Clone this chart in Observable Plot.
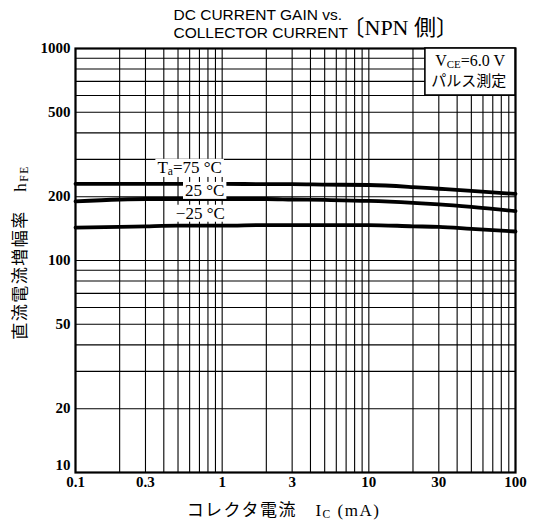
<!DOCTYPE html>
<html><head><meta charset="utf-8">
<script src="https://cdn.jsdelivr.net/npm/d3@7"></script>
<script src="https://cdn.jsdelivr.net/npm/@observablehq/plot@0.6"></script>
<style>body{margin:0;background:#fff} svg{display:block}</style>
</head><body>
<script>
// Collector current (mA)
const currents = [0.1, 0.2, 0.3, 0.5, 1, 2, 3, 5, 10, 20, 30, 50, 100];
// DC current gain hFE at each temperature
const hfe75  = [230, 230, 230, 230, 230, 229, 229, 228, 227, 222, 218, 213, 206];
const hfe25  = [190, 194, 195, 195, 195, 195, 194, 193, 191, 187, 184, 179, 171];
const hfeM25 = [143, 144, 145, 146, 146, 147, 147, 147, 147, 145, 144, 141, 137];
const seriesNames = ["75", "25", "-25"];

// Ticks and grid
const xTicks = [0.1, 0.3, 1, 3, 10, 30, 100];
const yTicksUpper = [20, 50, 100, 200, 500, 1000];
const yTicksBottom = [10];
const gridX = [0.1,0.2,0.3,0.4,0.5,0.6,0.7,0.8,0.9,1,2,3,4,5,6,7,8,9,10,20,30,40,50,60,70,80,90,100];
const gridY = [10,20,30,40,50,60,70,80,90,100,200,300,400,500,600,700,800,900,1000];

// Curve labels (data-space anchors)
const labelText = ["T_{a}=75 °C", "25 °C", "−25 °C"];
const labelX = [0.6, 0.76, 0.71];
const labelY = [275, 214, 167];

// Condition box
const boxX = [24.3, 100];
const boxY = [600, 1000];
const condText = ["V_{CE}=6.0 V", "パルス測定"];
const condX = [49, 48];
const condY = [872, 700];

// Texts
const titleLine1 = "DC CURRENT GAIN vs.";
const titleLine2 = "COLLECTOR CURRENT";
const titleSide = "〔NPN 側〕";
const xLabel = "コレクタ電流　I_{C} (mA)";
const yLabel = "直流電流増幅率　h_{FE}";

const rows = currents.flatMap((c, i) => [
  {ta: seriesNames[0], ic: c, h: hfe75[i]},
  {ta: seriesNames[1], ic: c, h: hfe25[i]},
  {ta: seriesNames[2], ic: c, h: hfeM25[i]}
]);

const serif = "'Liberation Serif', 'Noto Sans CJK JP', serif";
const sans = "'Liberation Sans Narrow', 'Liberation Sans', 'DejaVu Sans Condensed', sans-serif";

const svg = Plot.plot({
  width: 542, height: 530,
  marginTop: 48, marginBottom: 58, marginLeft: 75, marginRight: 27,
  x: {type: "log", domain: [0.1, 100]},
  y: {type: "log", domain: [10, 1000]},
  style: {fontFamily: serif, background: "white", color: "black"},
  marks: [
    Plot.ruleX(gridX, {stroke: "black", strokeWidth: 1.1}),
    Plot.ruleY(gridY, {stroke: "black", strokeWidth: 1.1}),
    Plot.line(rows, {x: "ic", y: "h", z: "ta", stroke: "black", strokeWidth: 3.8, curve: "monotone-x"}),
    Plot.frame({stroke: "black", strokeWidth: 2.2}),
    Plot.rect([0], {x1: boxX[0], x2: boxX[1], y1: boxY[0], y2: boxY[1], fill: "white", stroke: "black", strokeWidth: 1.6}),
    Plot.axisX({ticks: xTicks, tickSize: 0, tickPadding: 4, fontSize: 15, fontWeight: "bold", tickFormat: d => String(d), label: null}),
    Plot.axisY({ticks: yTicksUpper, tickSize: 0, tickPadding: 5, fontSize: 15, fontWeight: "bold", tickFormat: d => String(d), label: null}),
    Plot.axisY({ticks: yTicksBottom, tickSize: 0, tickPadding: 5, fontSize: 15, fontWeight: "bold", dy: -7, tickFormat: d => String(d), label: null}),
    Plot.text(labelText, {x: (d, i) => labelX[i], y: (d, i) => labelY[i], text: d => d, fontSize: 17, ariaLabel: () => "curve-label"}),
    Plot.text(condText, {x: (d, i) => condX[i], y: (d, i) => condY[i], text: d => d, fontSize: (d, i) => i === 0 ? 16 : 15, fontWeight: (d, i) => i === 0 ? "bold" : "normal"}),
    Plot.text([yLabel], {frameAnchor: "left", textAnchor: "middle", dx: -55, dy: -8, rotate: -90, fontSize: 17, ariaLabel: () => "axis-title"}),
    Plot.text([xLabel], {frameAnchor: "bottom", dx: -12, dy: 43, fontSize: 17, ariaLabel: () => "axis-title"}),
    Plot.text([titleLine1], {frameAnchor: "top-left", dx: 98, dy: -40, textAnchor: "start", fontSize: 15.5, fontFamily: sans}),
    Plot.text([titleLine2], {frameAnchor: "top-left", dx: 98, dy: -22, textAnchor: "start", fontSize: 15.5, fontFamily: sans}),
    Plot.text([titleSide], {frameAnchor: "top-left", dx: 267, dy: -29, textAnchor: "start", fontSize: 22})
  ]
});
document.body.append(svg);

const ns = "http://www.w3.org/2000/svg";
svg.querySelectorAll('text[aria-label="axis-title"]').forEach(t => t.setAttribute("letter-spacing", "1.5"));
// subscripts
svg.querySelectorAll("text").forEach(t => {
  const s = t.textContent;
  if (!s.includes("_{")) return;
  t.textContent = "";
  s.split(/_\{([^}]*)\}/).forEach((p, i) => {
    if (!p) return;
    const ts = document.createElementNS(ns, "tspan");
    ts.textContent = p;
    if (i % 2) { ts.setAttribute("font-size", "68%"); ts.setAttribute("baseline-shift", "-18%"); }
    t.appendChild(ts);
  });
});
// white backgrounds behind curve labels
svg.querySelectorAll('text[aria-label="curve-label"]').forEach(t => {
  const bb = t.getBBox();
  const r = document.createElementNS(ns, "rect");
  r.setAttribute("x", bb.x - 2); r.setAttribute("y", bb.y + 1);
  r.setAttribute("width", bb.width + 4); r.setAttribute("height", bb.height - 2);
  r.setAttribute("fill", "white"); r.setAttribute("stroke", "none");
  if (t.getAttribute("transform")) r.setAttribute("transform", t.getAttribute("transform"));
  t.parentNode.insertBefore(r, t);
});
</script>
</body></html>
